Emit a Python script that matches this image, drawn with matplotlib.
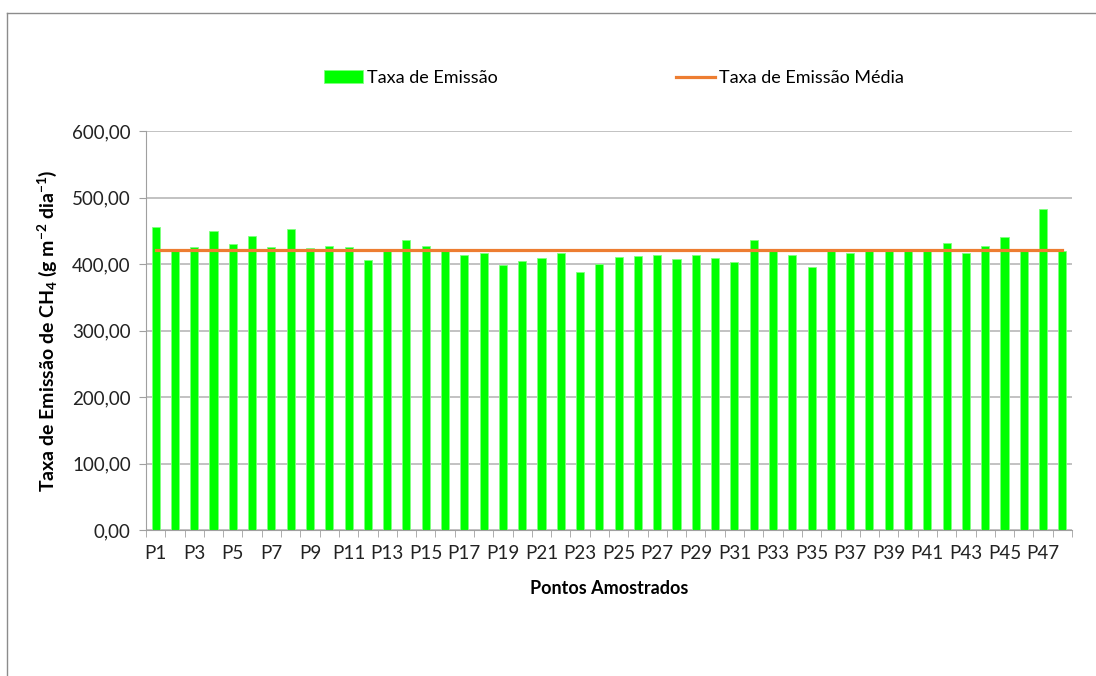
import numpy as np
import matplotlib.pyplot as plt
from matplotlib.lines import Line2D

plt.rcParams['font.family'] = ['Lato', 'DejaVu Sans']
plt.rcParams['mathtext.fontset'] = 'custom'
plt.rcParams['mathtext.rm'] = 'Lato:bold'
plt.rcParams['mathtext.it'] = 'Lato:bold'

# taxa de emissão por ponto (g m-2 dia-1)
pontos = ["P%d" % i for i in range(1, 49)]
taxa = [455, 419, 425.6, 449.8, 429.6, 442.7, 425.6, 452.8, 424, 427,
        425.6, 406, 420, 435.6, 427, 420, 414, 417, 399, 405,
        409, 417, 387.4, 400, 410.5, 412, 414, 407.5, 414, 409,
        403.5, 435.6, 420, 413, 396, 420, 416, 420, 420, 420,
        420, 431.7, 416, 427, 441, 420, 482, 419.8]
media = np.mean(taxa)

fig = plt.figure(figsize=(10.96, 6.76), dpi=100)
ax = fig.add_axes([146 / 1096, 1 - 530 / 676, 926 / 1096, 399 / 676])

x = np.arange(len(pontos))
barras = ax.bar(x, taxa, width=0.42, color='#00ff00', edgecolor='#80ff80',
                linewidth=0.6, label='Taxa de Emissão', zorder=2)
linha, = ax.plot(x, [media] * len(x), color='#ed7d31', linewidth=2.3,
                 label='Taxa de Emissão Média', zorder=3)

ax.set_xlim(-0.5, len(pontos) - 0.5)
ax.set_ylim(0, 600)
ax.set_yticks(np.arange(0, 601, 100))
ax.set_yticklabels(["%d,00" % v for v in range(0, 601, 100)])
ax.set_xticks(x[::2])
ax.set_xticklabels(pontos[::2])
ax.set_xticks(np.arange(-0.5, len(pontos)), minor=True)
ax.tick_params(axis='x', which='major', length=0, pad=11)
ax.tick_params(axis='x', which='minor', length=5, color='#a0a0a0')
ax.tick_params(axis='y', length=5, color='#a0a0a0', pad=6)
ax.tick_params(labelsize=13.5, labelcolor='#222222')

ax.grid(axis='y', color='#b8b8b8', linewidth=1.2, zorder=0)
ax.set_axisbelow(True)
for s in ['top', 'right']:
    ax.spines[s].set_visible(False)
for s in ['left', 'bottom']:
    ax.spines[s].set_color('#a0a0a0')

ax.set_ylabel('Taxa de Emissão de CH$_4$ (g m$^{-2}$ dia$^{-1}$)',
              fontsize=14, fontweight='bold', labelpad=9)
ax.set_xlabel('Pontos Amostrados', fontsize=13, fontweight='bold', labelpad=13)

fig.legend(handles=[barras, linha], loc='center left',
           bbox_to_anchor=(308 / 1096, 1 - 78 / 676), ncol=2,
           frameon=False, fontsize=13, columnspacing=9.9, handlelength=2.15,
           handletextpad=0.2)

# moldura externa do gráfico
fig.add_artist(Line2D([7 / 1096, 1], [1 - 13 / 676] * 2, color='#8c8c8c', linewidth=1))
fig.add_artist(Line2D([7 / 1096] * 2, [0, 1 - 13 / 676], color='#8c8c8c', linewidth=1))

fig.savefig('out.png', dpi=100)
